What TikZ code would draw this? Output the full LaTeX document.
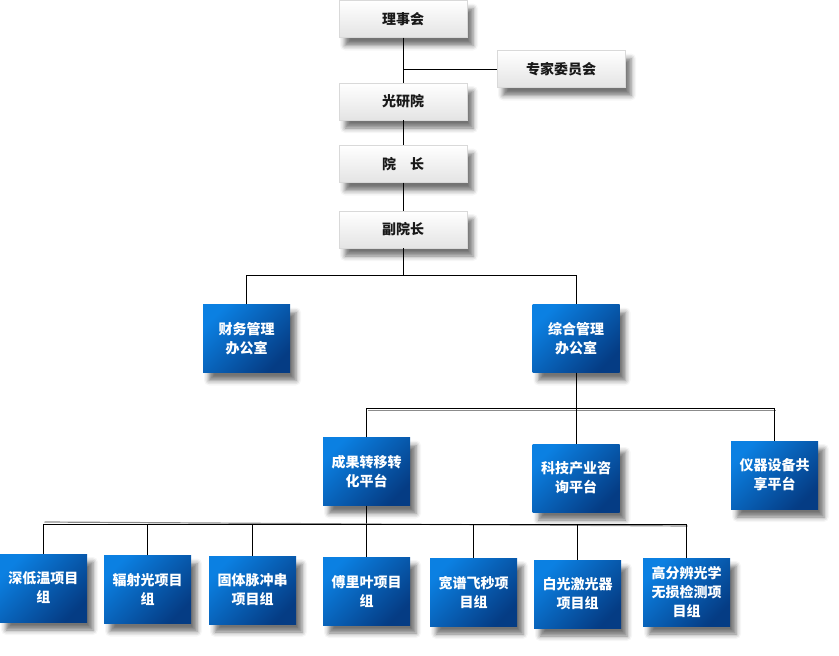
\documentclass[tikz,border=0pt]{standalone}
\usepackage{fontspec}
\setmainfont{Noto Sans CJK SC}
\usepackage{tikz}
\usetikzlibrary{shadows,shadows.blur,calc}

\definecolor{boxtop}{HTML}{0B80E2}
\definecolor{boxbot}{HTML}{053C84}
\definecolor{greytop}{HTML}{FFFFFF}
\definecolor{greybot}{HTML}{E4E4E4}

\tikzset{
  greybox/.style={draw=black!15,top color=greytop,bottom color=greybot,
    minimum width=128,minimum height=37,inner sep=0pt,
    font=\bfseries\fontsize{14}{18}\selectfont,text=black!90,
    blur shadow={shadow xshift=6pt,shadow yshift=-8pt,shadow blur radius=5pt,shadow opacity=55}},
  bluebox/.style={top color=boxtop,bottom color=boxbot,shading angle=45,
    minimum width=87,minimum height=68,inner sep=0pt,align=center,
    font=\bfseries\fontsize{14}{19}\selectfont,text=white,
    blur shadow={shadow xshift=6pt,shadow yshift=-8pt,shadow blur radius=5pt,shadow opacity=55}},
  link/.style={thin,black}
}

\begin{document}
\begin{tikzpicture}[x=1pt,y=-1pt]
\useasboundingbox (0,0) rectangle (839,656);
%top column
\node[greybox] (lsh) at (403,19) {理事会};
\node[greybox] (zjw) at (561,69) {专家委员会};
\node[greybox] (gyy) at (403,101.5) {光研院};
\node[greybox] (yz) at (403,164) {院\hspace{1em}长};
\node[greybox] (fyz) at (403,229.5) {副院长};
\draw[link] (lsh.south) -- (gyy.north);
\draw[link] (gyy.south) -- (yz.north);
\draw[link] (yz.south) -- (fyz.north);
\draw[link] (zjw.west) -- (zjw.west -| lsh.south);
%offices
\coordinate (b1) at (403,275);
\node[bluebox] (cw) at (246.5,338.5) {财务管理\\办公室};
\node[bluebox] (zh) at (576,338.5) {综合管理\\办公室};
\draw[link] (fyz.south) -- (b1);
\draw[link] (cw.north) -- (cw.north |- b1) -- (zh.north |- b1) -- (zh.north);
%platforms
\coordinate (b2) at (576,408.5);
\node[bluebox] (cg) at (366.5,471.5) {成果转移转\\化平台};
\node[bluebox] (kj) at (576,478) {科技产业咨\\询平台};
\node[bluebox] (yq) at (774.5,475) {仪器设备共\\享平台};
\draw[link] (zh.south) -- (b2);
\draw[black!45,line width=1.2pt] ($(cg.north |- b2)+(1,2)$) -- ($(yq.north |- b2)+(1,2)$);
\draw[link] (cg.north) -- (cg.north |- b2) -- (yq.north |- b2) -- (yq.north);
\draw[link] (kj.north) -- (b2);
%project groups
\coordinate (b3) at (366.5,524);
\foreach \n/\x/\y/\t in {sdw/43.5/588/{深低温项目\\组},fsg/147.5/589.5/{辐射光项目\\组},
  gt/252.5/590/{固体脉冲串\\项目组},flr/366.5/591/{傅里叶项目\\组},kp/473.5/592/{宽谱飞秒项\\目组},
  bg/577.5/594/{白光激光器\\项目组},gf/686.5/592/{高分辨光学\\无损检测项\\目组}}
  \node[bluebox] (\n) at (\x,\y) {\t};
\draw[link] (cg.south) -- (b3);
\draw[black!45,line width=1.2pt] ($(sdw.north |- b3)+(1,-2)$) -- ($(gf.north |- b3)+(1,2)$);
\draw[link] (sdw.north |- b3) -- (gf.north |- b3);
\foreach \n in {sdw,fsg,gt,flr,kp,bg,gf}
  \draw[link] (\n.north) -- (\n.north |- b3);
\end{tikzpicture}
\end{document}
